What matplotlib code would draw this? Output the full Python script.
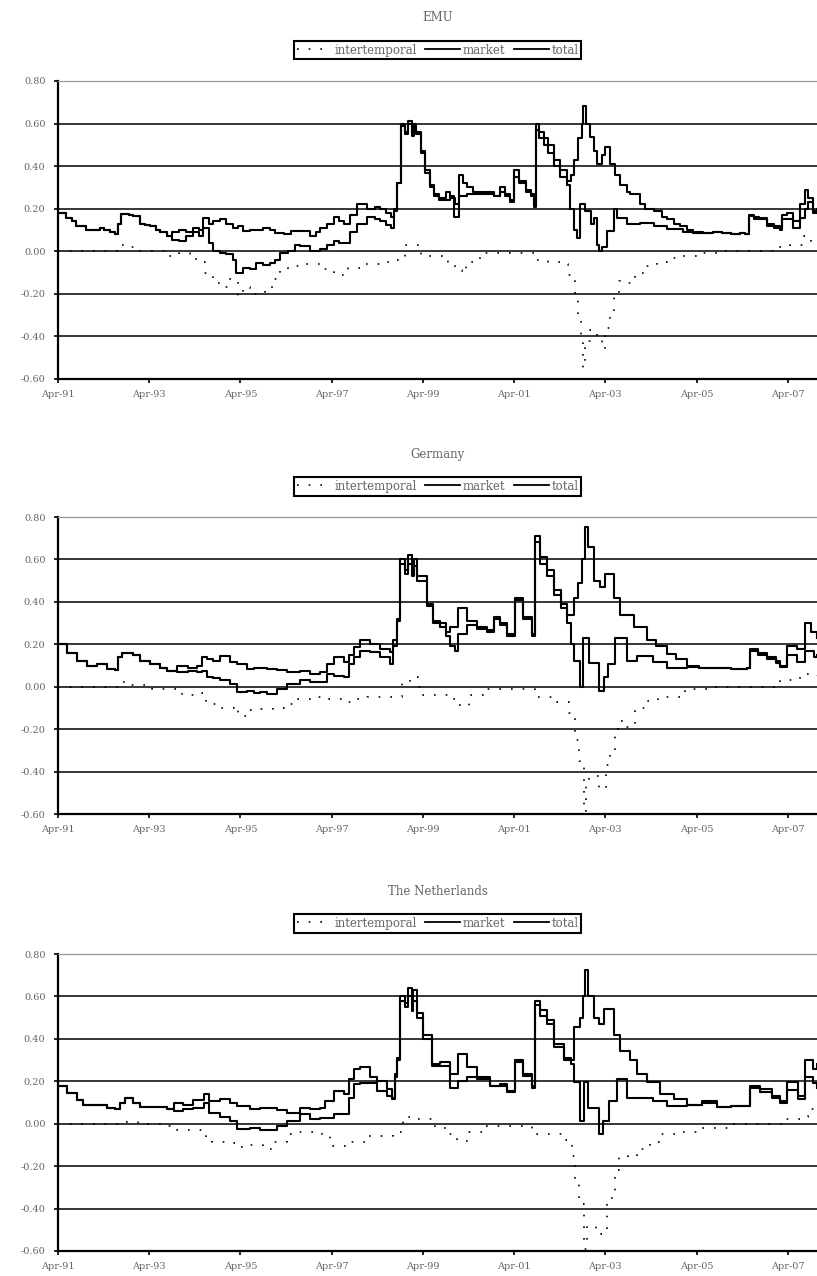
#!/usr/bin/env python3

import matplotlib
matplotlib.use('Agg')
import matplotlib.pyplot as plt
from matplotlib.lines import Line2D

plt.rcParams['font.family'] = 'DejaVu Serif'
plt.rcParams['axes.unicode_minus'] = False

TICK_YEARS = [1991.25 + 2 * k for k in range(9)]
TICK_LABELS = ['Apr-91', 'Apr-93', 'Apr-95', 'Apr-97', 'Apr-99',
               'Apr-01', 'Apr-03', 'Apr-05', 'Apr-07']
Y_TICKS = [0.80, 0.60, 0.40, 0.20, 0.00, -0.20, -0.40, -0.60]
X_END = 2007.89
SERIES_NAMES = ['intertemporal', 'market', 'total']
PANEL_TITLES = ['EMU', 'Germany', 'The Netherlands']

# (decimal year, value) break points
emu_market = [
    (1991.25, 0.18), (1991.43, 0.157), (1991.55, 0.14), (1991.65, 0.12), (1991.87, 0.10),
    (1992.16, 0.11), (1992.25, 0.10), (1992.38, 0.09), (1992.49, 0.08), (1992.57, 0.126),
    (1992.64, 0.176), (1992.8, 0.17), (1992.9, 0.165), (1993.04, 0.13), (1993.15, 0.125),
    (1993.26, 0.12), (1993.4, 0.10), (1993.48, 0.09), (1993.63, 0.07), (1993.75, 0.09),
    (1993.9, 0.10), (1994.05, 0.09), (1994.2, 0.11), (1994.35, 0.10), (1994.43, 0.157),
    (1994.55, 0.13), (1994.65, 0.14), (1994.8, 0.15), (1994.94, 0.13), (1995.09, 0.11),
    (1995.2, 0.12), (1995.3, 0.095), (1995.45, 0.10), (1995.6, 0.10), (1995.75, 0.11),
    (1995.9, 0.10), (1996.0, 0.087), (1996.2, 0.08), (1996.35, 0.095), (1996.56, 0.094),
    (1996.78, 0.07), (1996.9, 0.09), (1997.0, 0.11), (1997.15, 0.13), (1997.3, 0.16),
    (1997.42, 0.14), (1997.52, 0.13), (1997.65, 0.17), (1997.81, 0.22), (1998.03, 0.20),
    (1998.2, 0.21), (1998.32, 0.20), (1998.45, 0.18), (1998.54, 0.16), (1998.62, 0.20),
    (1998.69, 0.32), (1998.76, 0.60), (1998.85, 0.56), (1998.92, 0.61), (1999.0, 0.55),
    (1999.05, 0.60), (1999.1, 0.56), (1999.2, 0.47), (1999.3, 0.38), (1999.4, 0.31),
    (1999.49, 0.27), (1999.6, 0.25), (1999.75, 0.28), (1999.85, 0.25), (1999.95, 0.22),
    (2000.04, 0.36), (2000.12, 0.32), (2000.22, 0.30), (2000.35, 0.28), (2000.5, 0.27),
    (2000.66, 0.28), (2000.8, 0.26), (2000.95, 0.30), (2001.05, 0.27), (2001.17, 0.24),
    (2001.24, 0.38), (2001.35, 0.33), (2001.5, 0.29), (2001.61, 0.27), (2001.68, 0.22),
    (2001.72, 0.60), (2001.8, 0.56), (2001.9, 0.53), (2002.0, 0.50), (2002.12, 0.43),
    (2002.25, 0.38), (2002.41, 0.33), (2002.5, 0.36), (2002.56, 0.43), (2002.66, 0.53),
    (2002.74, 0.60), (2002.77, 0.684), (2002.82, 0.60), (2002.92, 0.535), (2003.0, 0.47),
    (2003.06, 0.41), (2003.17, 0.45), (2003.25, 0.49), (2003.36, 0.41), (2003.47, 0.36),
    (2003.58, 0.31), (2003.72, 0.28), (2003.8, 0.27), (2004.02, 0.22), (2004.13, 0.20),
    (2004.31, 0.19), (2004.49, 0.16), (2004.6, 0.15), (2004.75, 0.13), (2004.89, 0.12),
    (2005.05, 0.10), (2005.18, 0.09), (2005.4, 0.085), (2005.6, 0.09), (2005.8, 0.085),
    (2006.0, 0.08), (2006.2, 0.085), (2006.31, 0.08), (2006.39, 0.17), (2006.5, 0.16),
    (2006.61, 0.157), (2006.8, 0.13), (2006.95, 0.12), (2007.08, 0.11), (2007.12, 0.17),
    (2007.23, 0.18), (2007.37, 0.14), (2007.52, 0.22), (2007.63, 0.29), (2007.7, 0.25),
    (2007.81, 0.19), (2007.89, 0.20),
]
emu_total = [
    (1991.25, 0.18), (1991.43, 0.157), (1991.55, 0.14), (1991.65, 0.12), (1991.87, 0.10),
    (1992.16, 0.11), (1992.25, 0.10), (1992.38, 0.09), (1992.49, 0.08), (1992.57, 0.126),
    (1992.64, 0.176), (1992.8, 0.17), (1992.9, 0.165), (1993.04, 0.13), (1993.15, 0.125),
    (1993.26, 0.12), (1993.4, 0.10), (1993.48, 0.09), (1993.63, 0.07), (1993.75, 0.055),
    (1993.9, 0.05), (1994.05, 0.07), (1994.2, 0.09), (1994.35, 0.07), (1994.43, 0.11),
    (1994.55, 0.04), (1994.65, 0.0), (1994.8, -0.01), (1994.94, -0.015), (1995.09, -0.04),
    (1995.16, -0.10), (1995.3, -0.08), (1995.45, -0.085), (1995.6, -0.055), (1995.75, -0.063),
    (1995.9, -0.055), (1996.0, -0.04), (1996.12, -0.01), (1996.3, 0.0), (1996.45, 0.03),
    (1996.56, 0.024), (1996.78, 0.0), (1997.0, 0.01), (1997.15, 0.03), (1997.3, 0.05),
    (1997.42, 0.04), (1997.52, 0.04), (1997.65, 0.09), (1997.81, 0.13), (1998.03, 0.16),
    (1998.2, 0.15), (1998.32, 0.14), (1998.45, 0.125), (1998.54, 0.11), (1998.62, 0.19),
    (1998.69, 0.32), (1998.76, 0.59), (1998.85, 0.55), (1998.92, 0.60), (1999.0, 0.54),
    (1999.05, 0.58), (1999.1, 0.55), (1999.2, 0.46), (1999.3, 0.37), (1999.4, 0.30),
    (1999.49, 0.26), (1999.6, 0.24), (1999.75, 0.24), (1999.85, 0.26), (1999.93, 0.16),
    (2000.04, 0.26), (2000.22, 0.27), (2000.35, 0.27), (2000.5, 0.28), (2000.66, 0.27),
    (2000.8, 0.26), (2000.95, 0.28), (2001.05, 0.26), (2001.17, 0.23), (2001.24, 0.35),
    (2001.35, 0.32), (2001.5, 0.28), (2001.61, 0.26), (2001.68, 0.21), (2001.72, 0.57),
    (2001.8, 0.53), (2001.9, 0.50), (2002.0, 0.46), (2002.12, 0.40), (2002.25, 0.35),
    (2002.41, 0.31), (2002.48, 0.20), (2002.56, 0.10), (2002.63, 0.063), (2002.7, 0.22),
    (2002.8, 0.19), (2002.93, 0.126), (2003.0, 0.157), (2003.06, 0.03), (2003.11, 0.0),
    (2003.17, 0.02), (2003.28, 0.094), (2003.43, 0.197), (2003.5, 0.157), (2003.72, 0.126),
    (2004.02, 0.134), (2004.31, 0.118), (2004.6, 0.105), (2004.96, 0.09), (2005.18, 0.085),
    (2005.4, 0.085), (2005.6, 0.09), (2005.8, 0.085), (2006.0, 0.08), (2006.2, 0.085),
    (2006.31, 0.08), (2006.39, 0.165), (2006.5, 0.15), (2006.61, 0.15), (2006.8, 0.12),
    (2006.95, 0.11), (2007.08, 0.10), (2007.12, 0.15), (2007.23, 0.15), (2007.37, 0.11),
    (2007.52, 0.157), (2007.63, 0.20), (2007.7, 0.23), (2007.81, 0.18), (2007.89, 0.19),
]
emu_inter = [
    (1991.25, 0.0), (1992.5, 0.0), (1992.6, 0.03), (1992.8, 0.02), (1993.0, 0.0),
    (1993.6, -0.02), (1993.9, -0.01), (1994.15, -0.035), (1994.35, -0.05), (1994.47, -0.10),
    (1994.65, -0.15), (1994.8, -0.17), (1995.0, -0.13), (1995.2, -0.21), (1995.3, -0.17),
    (1995.45, -0.18), (1995.57, -0.20), (1995.79, -0.18), (1995.95, -0.13), (1996.12, -0.09),
    (1996.3, -0.07), (1996.56, -0.06), (1996.8, -0.06), (1997.0, -0.085), (1997.3, -0.11),
    (1997.6, -0.08), (1997.9, -0.06), (1998.3, -0.05), (1998.6, -0.04), (1998.7, -0.02),
    (1998.85, 0.03), (1999.2, -0.02), (1999.5, -0.02), (1999.8, -0.05), (1999.95, -0.09),
    (2000.1, -0.10), (2000.2, -0.05), (2000.5, -0.01), (2001.24, -0.01), (2001.7, -0.04),
    (2002.0, -0.05), (2002.25, -0.06), (2002.44, -0.11), (2002.52, -0.13), (2002.59, -0.20),
    (2002.63, -0.23), (2002.66, -0.32), (2002.72, -0.40), (2002.77, -0.55), (2002.8, -0.42),
    (2002.92, -0.37), (2003.06, -0.42), (2003.17, -0.46), (2003.25, -0.36), (2003.36, -0.30),
    (2003.45, -0.20), (2003.55, -0.14), (2003.72, -0.15), (2003.9, -0.10), (2004.13, -0.07),
    (2004.38, -0.05), (2004.6, -0.03), (2004.9, -0.02), (2005.3, -0.01), (2005.8, 0.0),
    (2006.6, 0.0), (2007.0, 0.02), (2007.3, 0.03), (2007.6, 0.07), (2007.75, 0.04),
    (2007.89, 0.05),
]

ger_market = [
    (1991.25, 0.20), (1991.44, 0.16), (1991.66, 0.12), (1991.88, 0.10), (1992.1, 0.105),
    (1992.32, 0.085), (1992.5, 0.08), (1992.57, 0.14), (1992.65, 0.16), (1992.9, 0.15),
    (1993.05, 0.12), (1993.27, 0.107), (1993.49, 0.09), (1993.63, 0.075), (1993.85, 0.10),
    (1994.1, 0.09), (1994.29, 0.10), (1994.4, 0.14), (1994.51, 0.13), (1994.65, 0.12),
    (1994.8, 0.147), (1995.02, 0.115), (1995.17, 0.107), (1995.39, 0.084), (1995.55, 0.09),
    (1995.68, 0.09), (1995.83, 0.085), (1996.05, 0.08), (1996.26, 0.068), (1996.56, 0.075),
    (1996.78, 0.06), (1997.0, 0.068), (1997.14, 0.107), (1997.29, 0.14), (1997.51, 0.115),
    (1997.62, 0.15), (1997.73, 0.186), (1997.87, 0.218), (1998.09, 0.20), (1998.31, 0.18),
    (1998.53, 0.163), (1998.6, 0.22), (1998.68, 0.32), (1998.75, 0.60), (1998.85, 0.55),
    (1998.92, 0.62), (1999.0, 0.55), (1999.05, 0.60), (1999.12, 0.52), (1999.19, 0.52),
    (1999.34, 0.39), (1999.48, 0.31), (1999.63, 0.30), (1999.75, 0.26), (1999.85, 0.28),
    (2000.03, 0.37), (2000.21, 0.31), (2000.43, 0.28), (2000.65, 0.265), (2000.8, 0.33),
    (2000.95, 0.30), (2001.09, 0.25), (2001.27, 0.42), (2001.45, 0.33), (2001.64, 0.25),
    (2001.71, 0.71), (2001.82, 0.61), (2001.98, 0.55), (2002.12, 0.455), (2002.27, 0.39),
    (2002.41, 0.34), (2002.56, 0.42), (2002.65, 0.49), (2002.74, 0.60), (2002.8, 0.755),
    (2002.88, 0.66), (2003.0, 0.50), (2003.14, 0.47), (2003.25, 0.53), (2003.43, 0.42),
    (2003.58, 0.34), (2003.87, 0.28), (2004.16, 0.22), (2004.35, 0.19), (2004.6, 0.155),
    (2004.8, 0.13), (2005.04, 0.10), (2005.3, 0.09), (2005.7, 0.09), (2006.0, 0.085),
    (2006.35, 0.09), (2006.43, 0.18), (2006.6, 0.16), (2006.79, 0.14), (2007.0, 0.12),
    (2007.08, 0.10), (2007.23, 0.19), (2007.45, 0.18), (2007.63, 0.30), (2007.75, 0.26),
    (2007.89, 0.23),
]
ger_total = [
    (1991.25, 0.20), (1991.44, 0.16), (1991.66, 0.12), (1991.88, 0.10), (1992.1, 0.105),
    (1992.32, 0.085), (1992.5, 0.08), (1992.57, 0.14), (1992.65, 0.16), (1992.9, 0.15),
    (1993.05, 0.12), (1993.27, 0.107), (1993.49, 0.09), (1993.63, 0.075), (1993.85, 0.07),
    (1994.1, 0.075), (1994.29, 0.07), (1994.4, 0.075), (1994.51, 0.045), (1994.65, 0.04),
    (1994.8, 0.03), (1995.02, 0.013), (1995.17, -0.027), (1995.39, -0.02), (1995.55, -0.03),
    (1995.68, -0.027), (1995.83, -0.035), (1996.05, -0.01), (1996.26, 0.013), (1996.56, 0.03),
    (1996.78, 0.02), (1997.0, 0.02), (1997.14, 0.06), (1997.29, 0.052), (1997.51, 0.045),
    (1997.62, 0.107), (1997.73, 0.14), (1997.87, 0.17), (1998.09, 0.163), (1998.31, 0.14),
    (1998.53, 0.107), (1998.6, 0.19), (1998.68, 0.31), (1998.75, 0.58), (1998.85, 0.53),
    (1998.92, 0.58), (1999.0, 0.52), (1999.05, 0.57), (1999.12, 0.50), (1999.19, 0.50),
    (1999.34, 0.38), (1999.48, 0.30), (1999.63, 0.28), (1999.75, 0.24), (1999.85, 0.19),
    (1999.95, 0.17), (2000.03, 0.25), (2000.21, 0.29), (2000.43, 0.27), (2000.65, 0.26),
    (2000.8, 0.32), (2000.95, 0.29), (2001.09, 0.24), (2001.27, 0.41), (2001.45, 0.32),
    (2001.64, 0.24), (2001.71, 0.68), (2001.82, 0.58), (2001.98, 0.52), (2002.12, 0.43),
    (2002.27, 0.37), (2002.41, 0.30), (2002.49, 0.20), (2002.56, 0.12), (2002.7, 0.0),
    (2002.76, 0.23), (2002.9, 0.11), (2003.1, -0.02), (2003.21, 0.044), (2003.3, 0.107),
    (2003.47, 0.23), (2003.72, 0.12), (2003.95, 0.147), (2004.3, 0.115), (2004.6, 0.09),
    (2005.04, 0.095), (2005.3, 0.09), (2005.7, 0.09), (2006.0, 0.085), (2006.35, 0.09),
    (2006.43, 0.17), (2006.6, 0.15), (2006.79, 0.13), (2007.0, 0.11), (2007.08, 0.095),
    (2007.23, 0.15), (2007.45, 0.115), (2007.63, 0.17), (2007.82, 0.14), (2007.89, 0.15),
]
ger_inter = [
    (1991.25, 0.0), (1992.5, 0.0), (1992.57, 0.02), (1992.75, 0.01), (1993.3, -0.01),
    (1993.96, -0.04), (1994.4, -0.03), (1994.5, -0.07), (1994.65, -0.08), (1994.8, -0.10),
    (1995.1, -0.09), (1995.2, -0.14), (1995.4, -0.11), (1995.7, -0.105), (1995.97, -0.10),
    (1996.2, -0.08), (1996.5, -0.06), (1996.85, -0.05), (1997.2, -0.06), (1997.6, -0.07),
    (1997.73, -0.06), (1998.02, -0.05), (1998.5, -0.05), (1998.79, 0.02), (1998.97, 0.045),
    (1999.15, 0.0), (1999.23, -0.04), (1999.6, -0.04), (1999.8, -0.06), (1999.95, -0.085),
    (2000.13, -0.09), (2000.25, -0.04), (2000.6, -0.01), (2001.24, -0.01), (2001.71, -0.05),
    (2002.2, -0.07), (2002.45, -0.125), (2002.59, -0.25), (2002.67, -0.35), (2002.78, -0.59),
    (2002.82, -0.45), (2002.9, -0.42), (2003.1, -0.48), (2003.27, -0.37), (2003.36, -0.32),
    (2003.47, -0.20), (2003.53, -0.16), (2003.73, -0.19), (2003.9, -0.10), (2004.12, -0.066),
    (2004.4, -0.05), (2005.0, -0.01), (2005.5, 0.0), (2006.8, 0.0), (2007.08, 0.03),
    (2007.52, 0.06), (2007.89, 0.05),
]

nl_market = [
    (1991.25, 0.18), (1991.44, 0.147), (1991.66, 0.11), (1991.8, 0.09), (1992.1, 0.09),
    (1992.32, 0.073), (1992.5, 0.068), (1992.6, 0.10), (1992.72, 0.12), (1992.9, 0.10),
    (1993.05, 0.08), (1993.49, 0.08), (1993.63, 0.068), (1993.8, 0.10), (1994.0, 0.09),
    (1994.2, 0.11), (1994.44, 0.14), (1994.55, 0.107), (1994.8, 0.115), (1995.02, 0.10),
    (1995.17, 0.084), (1995.46, 0.068), (1995.68, 0.076), (1996.05, 0.063), (1996.26, 0.052),
    (1996.56, 0.076), (1996.78, 0.068), (1997.0, 0.073), (1997.11, 0.107), (1997.29, 0.155),
    (1997.51, 0.14), (1997.62, 0.21), (1997.73, 0.257), (1997.87, 0.265), (1998.09, 0.218),
    (1998.24, 0.155), (1998.46, 0.13), (1998.57, 0.115), (1998.64, 0.234), (1998.68, 0.31),
    (1998.75, 0.60), (1998.85, 0.57), (1998.92, 0.64), (1999.0, 0.56), (1999.04, 0.63),
    (1999.12, 0.52), (1999.26, 0.42), (1999.45, 0.28), (1999.63, 0.29), (1999.85, 0.234),
    (2000.03, 0.33), (2000.21, 0.265), (2000.43, 0.22), (2000.72, 0.18), (2000.94, 0.186),
    (2001.09, 0.155), (2001.27, 0.30), (2001.45, 0.234), (2001.64, 0.18), (2001.71, 0.58),
    (2001.82, 0.534), (2001.98, 0.49), (2002.12, 0.376), (2002.34, 0.31), (2002.49, 0.30),
    (2002.56, 0.455), (2002.7, 0.50), (2002.76, 0.60), (2002.8, 0.724), (2002.88, 0.60),
    (2003.0, 0.50), (2003.1, 0.47), (2003.22, 0.54), (2003.43, 0.42), (2003.58, 0.345),
    (2003.8, 0.30), (2003.95, 0.234), (2004.16, 0.195), (2004.45, 0.139), (2004.75, 0.115),
    (2005.04, 0.088), (2005.37, 0.107), (2005.7, 0.08), (2006.0, 0.084), (2006.35, 0.084),
    (2006.43, 0.18), (2006.65, 0.163), (2006.9, 0.13), (2007.08, 0.107), (2007.23, 0.195),
    (2007.48, 0.115), (2007.63, 0.30), (2007.8, 0.26), (2007.89, 0.28),
]
nl_total = [
    (1991.25, 0.18), (1991.44, 0.147), (1991.66, 0.11), (1991.8, 0.09), (1992.1, 0.09),
    (1992.32, 0.073), (1992.5, 0.068), (1992.6, 0.10), (1992.72, 0.12), (1992.9, 0.10),
    (1993.05, 0.08), (1993.49, 0.08), (1993.63, 0.068), (1993.8, 0.06), (1994.0, 0.07),
    (1994.2, 0.075), (1994.44, 0.10), (1994.55, 0.052), (1994.8, 0.03), (1995.02, 0.013),
    (1995.17, -0.027), (1995.46, -0.02), (1995.68, -0.03), (1996.05, -0.01), (1996.26, 0.013),
    (1996.56, 0.044), (1996.78, 0.02), (1997.0, 0.028), (1997.29, 0.044), (1997.51, 0.047),
    (1997.62, 0.123), (1997.73, 0.186), (1997.87, 0.194), (1998.09, 0.194), (1998.24, 0.20),
    (1998.46, 0.163), (1998.57, 0.12), (1998.64, 0.22), (1998.68, 0.30), (1998.75, 0.58),
    (1998.85, 0.55), (1998.92, 0.60), (1999.0, 0.53), (1999.04, 0.58), (1999.12, 0.50),
    (1999.26, 0.40), (1999.45, 0.27), (1999.63, 0.27), (1999.85, 0.17), (2000.03, 0.20),
    (2000.21, 0.22), (2000.43, 0.21), (2000.72, 0.18), (2000.94, 0.18), (2001.09, 0.15),
    (2001.27, 0.29), (2001.45, 0.225), (2001.64, 0.17), (2001.71, 0.56), (2001.82, 0.51),
    (2001.98, 0.47), (2002.12, 0.36), (2002.34, 0.30), (2002.49, 0.28), (2002.56, 0.195),
    (2002.7, 0.013), (2002.78, 0.195), (2002.88, 0.076), (2003.1, -0.05), (2003.2, 0.013),
    (2003.33, 0.107), (2003.51, 0.21), (2003.72, 0.123), (2004.0, 0.123), (2004.3, 0.107),
    (2004.6, 0.084), (2005.04, 0.088), (2005.37, 0.10), (2005.7, 0.08), (2006.0, 0.084),
    (2006.35, 0.084), (2006.43, 0.17), (2006.65, 0.15), (2006.9, 0.12), (2007.08, 0.10),
    (2007.23, 0.16), (2007.48, 0.13), (2007.63, 0.22), (2007.8, 0.19), (2007.89, 0.17),
]
nl_inter = [
    (1991.25, 0.0), (1992.5, 0.0), (1992.6, 0.01), (1993.0, 0.0), (1993.56, -0.01),
    (1993.7, -0.03), (1994.4, -0.03), (1994.5, -0.065), (1994.62, -0.085), (1995.1, -0.09),
    (1995.2, -0.11), (1995.35, -0.10), (1995.75, -0.117), (1995.97, -0.085), (1996.26, -0.05),
    (1996.45, -0.04), (1996.92, -0.04), (1997.03, -0.06), (1997.22, -0.105), (1997.58, -0.085),
    (1997.98, -0.06), (1998.38, -0.06), (1998.6, -0.04), (1998.82, 0.03), (1999.05, 0.02),
    (1999.52, -0.02), (1999.82, -0.05), (2000.0, -0.08), (2000.25, -0.04), (2000.6, -0.01),
    (2001.24, -0.01), (2001.65, -0.05), (2002.38, -0.075), (2002.52, -0.15), (2002.59, -0.27),
    (2002.67, -0.38), (2002.78, -0.59), (2002.85, -0.48), (2003.05, -0.50), (2003.15, -0.52),
    (2003.29, -0.35), (2003.47, -0.22), (2003.55, -0.15), (2003.75, -0.155), (2003.95, -0.12),
    (2004.23, -0.085), (2004.45, -0.05), (2004.8, -0.04), (2005.33, -0.02), (2006.0, 0.0),
    (2006.55, 0.0), (2007.15, 0.02), (2007.52, 0.03), (2007.7, 0.07), (2007.89, 0.05),
]

PANELS = [
    (emu_inter, emu_market, emu_total),
    (ger_inter, ger_market, ger_total),
    (nl_inter, nl_market, nl_total),
]

# axes placement in pixels of the 817x1276 page: (top, bottom)
FIG_W, FIG_H = 817, 1276
AX_LEFT = 58
AX_ROWS = [(81, 379), (517, 814), (954, 1251)]

TEXT_GREY = '#666666'
DOTTED = (0, (1, 6))


def draw_panel(ax, title, inter, market, total):
    """one stacked panel: dotted intertemporal, solid market and total"""
    for y in Y_TICKS[1:-1]:
        ax.axhline(y, color='black', lw=1.1, zorder=1)

    t, v = zip(*inter)
    ax.plot(t, v, drawstyle='steps-post', color='black', lw=1.2,
            linestyle=DOTTED, zorder=3)
    for series in (market, total):
        t, v = zip(*series)
        ax.plot(t, v, drawstyle='steps-post', color='black', lw=1.5, zorder=4)

    ax.set_xlim(TICK_YEARS[0], X_END)
    ax.set_ylim(-0.6, 0.8)
    ax.set_yticks(Y_TICKS)
    ax.set_yticklabels([f'{y:.2f}' for y in Y_TICKS])
    ax.set_xticks(TICK_YEARS)
    ax.set_xticklabels(TICK_LABELS)
    ax.tick_params(axis='both', direction='out', length=3, width=1.2,
                   labelsize=7, labelcolor=TEXT_GREY, color='black')
    ax.tick_params(axis='y', pad=6)
    ax.tick_params(axis='x', pad=5)

    ax.spines['right'].set_visible(False)
    ax.spines['top'].set_color('#999999')
    ax.spines['top'].set_linewidth(0.9)
    ax.spines['left'].set_linewidth(1.6)
    ax.spines['bottom'].set_linewidth(1.6)

    handles = [
        Line2D([], [], color='black', lw=1.2, linestyle=DOTTED),
        Line2D([], [], color='black', lw=1.3),
        Line2D([], [], color='black', lw=1.3),
    ]
    leg = ax.legend(handles, SERIES_NAMES, loc='center', bbox_to_anchor=(0.5, 1.104),
                    ncol=3, fontsize=8.5, labelcolor=TEXT_GREY, frameon=True,
                    fancybox=False, framealpha=1, edgecolor='black', borderpad=0.25,
                    handlelength=3.0, handletextpad=0.2, columnspacing=0.7,
                    borderaxespad=0)
    leg.get_frame().set_linewidth(1.5)

    ax.text(0.5, 1.212, title, transform=ax.transAxes, ha='center', va='center',
            fontsize=8.5, color=TEXT_GREY)


def main():
    fig = plt.figure(figsize=(FIG_W / 100, FIG_H / 100), dpi=100)
    for (top, bottom), title, (inter, market, total) in zip(AX_ROWS, PANEL_TITLES, PANELS):
        rect = [AX_LEFT / FIG_W, 1 - bottom / FIG_H,
                (FIG_W - AX_LEFT) / FIG_W, (bottom - top) / FIG_H]
        ax = fig.add_axes(rect)
        draw_panel(ax, title, inter, market, total)
    fig.savefig('out.png', dpi=100)


if __name__ == '__main__':
    main()
